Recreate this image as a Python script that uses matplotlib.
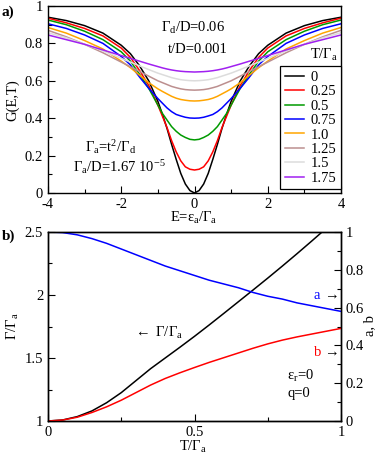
import numpy as np
import matplotlib
matplotlib.use("Agg")
import matplotlib.pyplot as plt

plt.rcParams['font.family'] = ['Liberation Serif', 'DejaVu Serif']
plt.rcParams['mathtext.fontset'] = 'custom'
plt.rcParams['mathtext.rm'] = 'Liberation Serif'
plt.rcParams['mathtext.it'] = 'Liberation Serif:italic'
plt.rcParams['mathtext.default'] = 'rm'
plt.rcParams['axes.unicode_minus'] = False

FS = 10.5

# ---- panel a : G(E,T), read for E >= 0 (curves are symmetric) ----
E_half = [0, 0.125, 0.25, 0.375, 0.5, 0.625, 0.75, 0.875, 1.0,
          1.25, 1.5, 1.75, 2.0, 2.5, 3.0, 3.5, 4.0]
T_labels = ['0', '0.25', '0.5', '0.75', '1.0', '1.25', '1.5', '1.75']
G_T0 = [0.0, 0.013, 0.048, 0.105, 0.18, 0.26, 0.345, 0.42, 0.49,
        0.60, 0.68, 0.745, 0.79, 0.855, 0.895, 0.922, 0.94]
G_T025 = [0.123, 0.127, 0.14, 0.172, 0.22, 0.28, 0.35, 0.41, 0.47,
          0.575, 0.655, 0.725, 0.775, 0.84, 0.88, 0.91, 0.935]
G_T05 = [0.284, 0.287, 0.297, 0.31, 0.33, 0.355, 0.39, 0.425, 0.47,
         0.56, 0.635, 0.705, 0.755, 0.82, 0.865, 0.90, 0.925]
G_T075 = [0.40, 0.401, 0.405, 0.412, 0.42, 0.435, 0.455, 0.48, 0.505,
          0.56, 0.62, 0.685, 0.73, 0.80, 0.845, 0.88, 0.905]
G_T10 = [0.492, 0.493, 0.496, 0.50, 0.507, 0.517, 0.53, 0.543, 0.557,
         0.59, 0.63, 0.67, 0.705, 0.77, 0.815, 0.855, 0.885]
G_T125 = [0.55, 0.551, 0.553, 0.557, 0.563, 0.57, 0.58, 0.59, 0.60,
          0.625, 0.65, 0.675, 0.70, 0.75, 0.795, 0.835, 0.87]
G_T15 = [0.60, 0.601, 0.603, 0.606, 0.611, 0.617, 0.625, 0.633, 0.641,
         0.66, 0.68, 0.70, 0.72, 0.76, 0.795, 0.83, 0.857]
G_T175 = [0.647, 0.648, 0.649, 0.651, 0.654, 0.658, 0.663, 0.669, 0.676,
          0.69, 0.705, 0.72, 0.735, 0.765, 0.795, 0.82, 0.845]
G_curves = [G_T0, G_T025, G_T05, G_T075, G_T10, G_T125, G_T15, G_T175]
colors_a = ['black', 'red', '#009a00', 'blue', 'orange', '#bc8f8f',
            '#dcdcdc', '#a020f0']

# ---- panel b : widths and weights vs T ----
T_b = [0.0, 0.05, 0.1, 0.15, 0.2, 0.25, 0.3, 0.35, 0.4, 0.45, 0.5,
       0.55, 0.6, 0.65, 0.7, 0.75, 0.8, 0.85, 0.9, 0.95, 1.0]
Gamma_ratio = [1.0, 1.008, 1.035, 1.08, 1.145, 1.225, 1.32, 1.415, 1.50,
               1.585, 1.672, 1.762, 1.854, 1.947, 2.04, 2.134, 2.23, 2.328,
               2.428, 2.53, 2.63]
a_vals = [1.0, 0.997, 0.985, 0.965, 0.94, 0.91, 0.88, 0.85, 0.82, 0.795,
          0.77, 0.745, 0.725, 0.705, 0.68, 0.66, 0.645, 0.625, 0.61, 0.595, 0.58]
b_vals = [0.0, 0.005, 0.02, 0.045, 0.075, 0.11, 0.15, 0.19, 0.225, 0.255,
          0.283, 0.31, 0.335, 0.36, 0.385, 0.408, 0.428, 0.445, 0.46,
          0.475, 0.49]

W, H = 382, 458
fig = plt.figure(figsize=(W / 100, H / 100), dpi=100)


def px(x, y):
    return x / W, 1 - y / H


def style(ax):
    ax.tick_params(which='both', direction='in', labelsize=FS)
    ax.tick_params(which='major', length=5, width=0.8)
    ax.tick_params(which='minor', length=2.8, width=0.8)
    for s in ax.spines.values():
        s.set_linewidth(1.0)


# panel a
axa = fig.add_axes([48 / W, 1 - 193 / H, 293 / W, 187 / H])
E_full = [-e for e in E_half[::-1]] + E_half[1:]
for G, c, lab in zip(G_curves, colors_a, T_labels):
    G_full = G[::-1] + G[1:]
    axa.plot(E_full, G_full, color=c, lw=1.1, label=lab)
axa.set_xlim(-4, 4)
axa.set_ylim(0, 1)
axa.set_xticks([-4, -2, 0, 2, 4])
axa.set_xticks([-3, -1, 1, 3], minor=True)
axa.set_yticks([0, 0.2, 0.4, 0.6, 0.8, 1])
axa.set_yticklabels(['0', '0.2', '0.4', '0.6', '0.8', '1'])
axa.set_yticks(np.arange(0.1, 1.0, 0.2), minor=True)
style(axa)
leg = axa.legend(loc='lower right', bbox_to_anchor=(1.0, 0.021),
                 borderaxespad=0, fontsize=FS, frameon=True, fancybox=False,
                 edgecolor='black', framealpha=1, handlelength=1.3,
                 handletextpad=0.5, labelspacing=0.08, borderpad=0.3)
leg.get_frame().set_linewidth(0.9)

fig.text(*px(2, 16), 'a)', fontsize=FS + 0.5, fontweight='bold')
fig.text(*px(161, 32), r'$\Gamma_d$/D=0.06', fontsize=FS)
fig.text(*px(168, 53), 't/D=0.001', fontsize=FS)
fig.text(*px(310, 59), r'T/$\Gamma_a$', fontsize=FS)
fig.text(*px(85, 152), r'$\Gamma_a$=t$^2$/$\Gamma_d$', fontsize=FS)
fig.text(*px(73, 172), r'$\Gamma_a$/D=1.67 10$^{-5}$', fontsize=FS)
fig.text(*px(13, 100), 'G(E,T)', fontsize=FS, rotation=90,
         ha='center', va='center')
fig.text(*px(194, 222), r'E=$\varepsilon_a$/$\Gamma_a$', fontsize=FS,
         ha='center', va='baseline')

# panel b
axb = fig.add_axes([48 / W, 1 - 421 / H, 293 / W, 189 / H])
axb.plot(T_b, Gamma_ratio, color='black', lw=1.1)
axb.set_xlim(0, 1)
axb.set_ylim(1, 2.5)
axb.set_xticks([0, 0.5, 1])
axb.set_xticklabels(['0', '0.5', '1'])
axb.set_xticks([0.25, 0.75], minor=True)
axb.set_yticks([1, 1.5, 2, 2.5])
axb.set_yticklabels(['1', '1.5', '2', '2.5'])
axb.set_yticks([1.25, 1.75, 2.25], minor=True)
style(axb)
axr = axb.twinx()
axr.plot(T_b, a_vals, color='blue', lw=1.1)
axr.plot(T_b, b_vals, color='red', lw=1.1)
axr.set_ylim(0, 1)
axr.set_yticks([0, 0.2, 0.4, 0.6, 0.8, 1])
axr.set_yticklabels(['0', '0.2', '0.4', '0.6', '0.8', '1'])
axr.set_yticks(np.arange(0.1, 1.0, 0.2), minor=True)
style(axr)

fig.text(*px(2, 240), 'b)', fontsize=FS + 0.5, fontweight='bold')
fig.text(*px(13, 326), r'$\Gamma$/$\Gamma_a$', fontsize=FS, rotation=90,
         ha='center', va='center')
fig.text(*px(370, 326), 'a, b', fontsize=FS, rotation=90,
         ha='center', va='center')
fig.text(*px(133, 337), r'$\leftarrow$ $\Gamma$/$\Gamma_a$', fontsize=FS)
fig.text(*px(313, 299), 'a', fontsize=FS, color='blue')
fig.text(*px(322, 299), r'$\rightarrow$', fontsize=FS)
fig.text(*px(314, 356), 'b', fontsize=FS, color='red')
fig.text(*px(322, 356), r'$\rightarrow$', fontsize=FS)
fig.text(*px(287, 380), r'$\varepsilon_r$=0', fontsize=FS)
fig.text(*px(287, 397), 'q=0', fontsize=FS)
fig.text(*px(193, 451), r'T/$\Gamma_a$', fontsize=FS,
         ha='center', va='baseline')

fig.savefig('out.png', dpi=100)
